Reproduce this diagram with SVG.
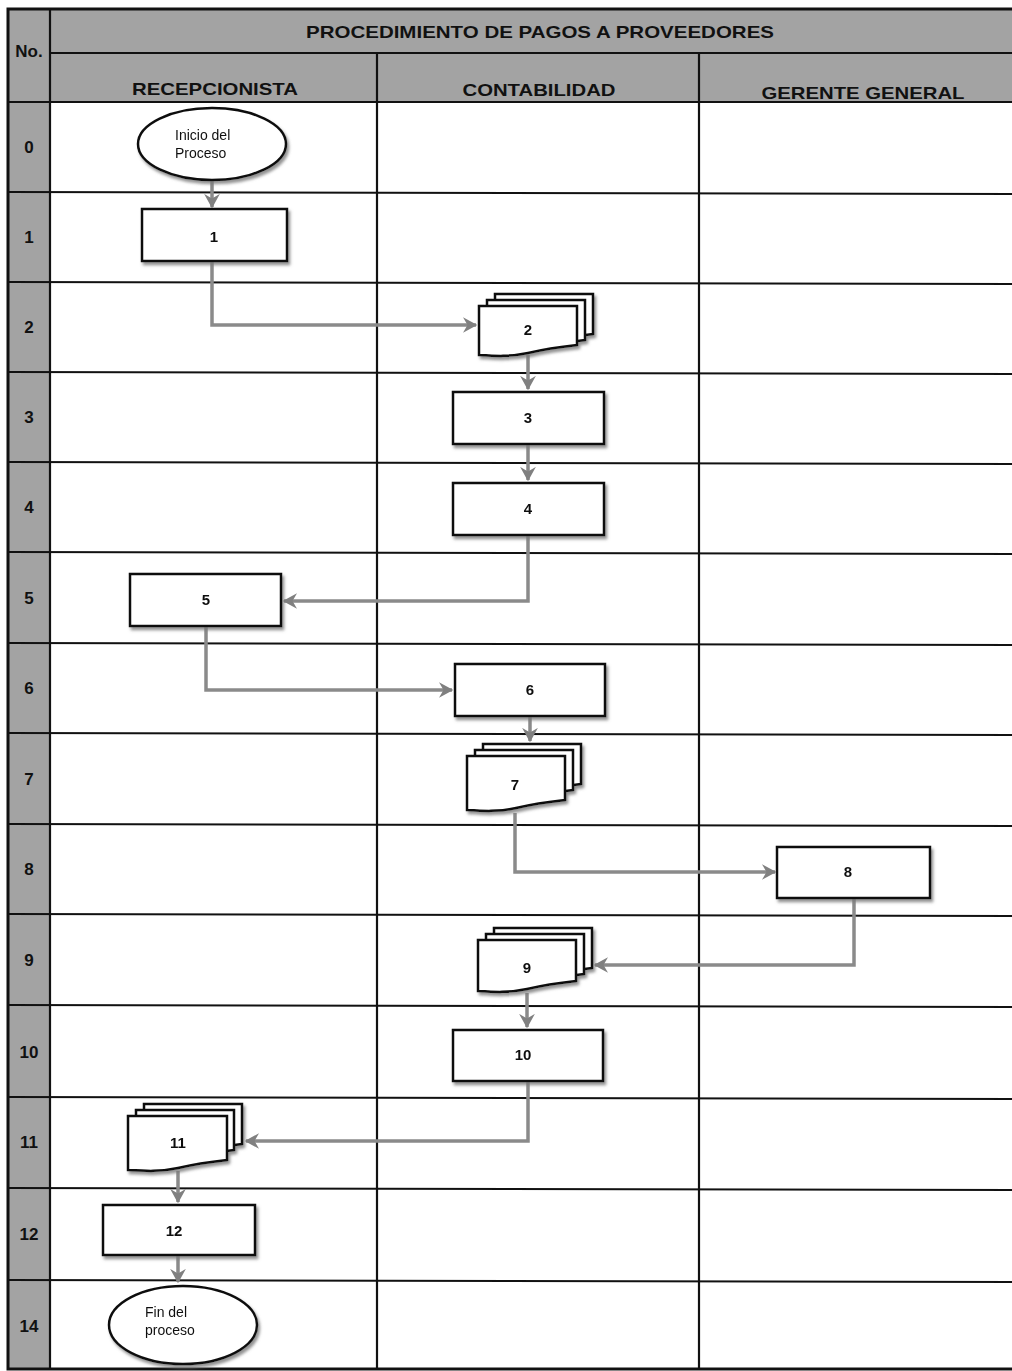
<svg xmlns="http://www.w3.org/2000/svg" width="1012" height="1371" viewBox="0 0 1012 1371">
<style>
.grid{stroke:#111;stroke-width:2.2;fill:none}
.hdr{font-family:"Liberation Sans",Arial,sans-serif;font-weight:bold;fill:#111;text-anchor:middle}
.num{font-family:"Liberation Sans",Arial,sans-serif;font-weight:bold;font-size:17px;fill:#111;text-anchor:middle}
.box{fill:#fff;stroke:#111;stroke-width:2.5}
.lbl{font-family:"Liberation Sans",Arial,sans-serif;font-weight:bold;font-size:15px;fill:#111;text-anchor:middle}
.elt{font-family:"Liberation Sans",Arial,sans-serif;font-size:14px;fill:#111}
.con{fill:none;stroke:#8a8a8a;stroke-width:3.5;marker-end:url(#arr)}
</style>
<defs>
<filter id="sh" x="-20%" y="-20%" width="150%" height="160%">
<feDropShadow dx="2" dy="3" stdDeviation="1.5" flood-color="#777" flood-opacity="0.8"/>
</filter>
<marker id="arr" viewBox="0 0 12 12" refX="10" refY="6" markerWidth="4.5" markerHeight="4.5" orient="auto" markerUnits="strokeWidth">
<path d="M0,0 L11,6 L0,12 L3.5,6 Z" fill="#808080"/>
</marker>
</defs>

<rect x="8" y="9" width="1004" height="93" fill="#a3a3a3"/>
<rect x="8" y="102" width="42" height="1267" fill="#a3a3a3"/>

<g id="grid" class="grid">
<rect x="8" y="9" width="1010" height="1360" stroke-width="3"/>
<line x1="50" y1="9" x2="50" y2="1369"/>
<line x1="50" y1="53" x2="1012" y2="53"/>
<line x1="8" y1="102" x2="1012" y2="102"/>
<line x1="377" y1="53" x2="377" y2="1369"/>
<line x1="699" y1="53" x2="699" y2="1369"/>
<line x1="8" y1="192" x2="1012" y2="194"/>
<line x1="8" y1="282" x2="1012" y2="284"/>
<line x1="8" y1="372" x2="1012" y2="374"/>
<line x1="8" y1="462" x2="1012" y2="464"/>
<line x1="8" y1="552" x2="1012" y2="554"/>
<line x1="8" y1="643" x2="1012" y2="645"/>
<line x1="8" y1="733" x2="1012" y2="735"/>
<line x1="8" y1="824" x2="1012" y2="826"/>
<line x1="8" y1="914" x2="1012" y2="916"/>
<line x1="8" y1="1005" x2="1012" y2="1007"/>
<line x1="8" y1="1097" x2="1012" y2="1099"/>
<line x1="8" y1="1188" x2="1012" y2="1190"/>
<line x1="8" y1="1280" x2="1012" y2="1282"/>
</g>

<g id="headers">
<text class="hdr" x="540" y="38" font-size="17" textLength="468" lengthAdjust="spacingAndGlyphs">PROCEDIMIENTO DE PAGOS A PROVEEDORES</text>
<text class="hdr" x="29" y="57" font-size="17">No.</text>
<text class="hdr" x="215" y="95" font-size="17" textLength="166" lengthAdjust="spacingAndGlyphs">RECEPCIONISTA</text>
<text class="hdr" x="539" y="96" font-size="17" textLength="153" lengthAdjust="spacingAndGlyphs">CONTABILIDAD</text>
<text class="hdr" x="863" y="99" font-size="17" textLength="203" lengthAdjust="spacingAndGlyphs">GERENTE GENERAL</text>
</g>

<g id="rownums">
<text class="num" x="29" y="153">0</text>
<text class="num" x="29" y="243">1</text>
<text class="num" x="29" y="333">2</text>
<text class="num" x="29" y="423">3</text>
<text class="num" x="29" y="513">4</text>
<text class="num" x="29" y="604">5</text>
<text class="num" x="29" y="694">6</text>
<text class="num" x="29" y="785">7</text>
<text class="num" x="29" y="875">8</text>
<text class="num" x="29" y="966">9</text>
<text class="num" x="29" y="1058">10</text>
<text class="num" x="29" y="1148">11</text>
<text class="num" x="29" y="1240">12</text>
<text class="num" x="29" y="1332">14</text>
</g>

<g id="connectors">
<path class="con" d="M212,181 V207"/>
<path class="con" d="M212,262 V325 H476"/>
<path class="con" d="M528,355 V389"/>
<path class="con" d="M528,445 V480"/>
<path class="con" d="M528,536 V601 H284"/>
<path class="con" d="M206,627 V690 H452"/>
<path class="con" d="M530,717 V741"/>
<path class="con" d="M515,813 V872 H775"/>
<path class="con" d="M854,899 V965 H595"/>
<path class="con" d="M527,993 V1027"/>
<path class="con" d="M528,1082 V1141 H246"/>
<path class="con" d="M178,1171 V1202"/>
<path class="con" d="M178,1256 V1282"/>
</g>

<g id="n0" filter="url(#sh)">
<ellipse cx="212" cy="144" rx="74" ry="36" class="box"/>
<text class="elt" x="175" y="140">Inicio del</text>
<text class="elt" x="175" y="158">Proceso</text>
</g>
<g id="n1" filter="url(#sh)">
<rect x="142" y="209" width="145" height="52" class="box"/>
<text class="lbl" x="214" y="242">1</text>
</g>
<g id="n2" filter="url(#sh)">
<path class="box" d="M495,294 H593 V334 C575,336 560,340 540,343 C520,346 510,346 495,346 Z"/>
<path class="box" d="M487,300 H585 V340 C567,342 552,346 532,349 C512,352 502,352 487,352 Z"/>
<path class="box" d="M479,306 H577 V345 C559,347 545,349 528,353 C510,357 495,356 479,355 Z"/>
<text class="lbl" x="528" y="335">2</text>
</g>
<g id="n3" filter="url(#sh)">
<rect x="453" y="392" width="151" height="52" class="box"/>
<text class="lbl" x="528" y="423">3</text>
</g>
<g id="n4" filter="url(#sh)">
<rect x="453" y="483" width="151" height="52" class="box"/>
<text class="lbl" x="528" y="514">4</text>
</g>
<g id="n5" filter="url(#sh)">
<rect x="130" y="574" width="151" height="52" class="box"/>
<text class="lbl" x="206" y="605">5</text>
</g>
<g id="n6" filter="url(#sh)">
<rect x="455" y="664" width="150" height="52" class="box"/>
<text class="lbl" x="530" y="695">6</text>
</g>
<g id="n7" filter="url(#sh)">
<path class="box" d="M483,744 H581 V784 C563,786 548,790 528,793 C508,796 498,796 483,796 Z"/>
<path class="box" d="M475,750 H573 V790 C555,792 540,796 520,799 C500,802 490,802 475,802 Z"/>
<path class="box" d="M467,756 H565 V800 C547,802 533,804 516,808 C498,812 483,811 467,810 Z"/>
<text class="lbl" x="515" y="790">7</text>
</g>
<g id="n8" filter="url(#sh)">
<rect x="777" y="847" width="153" height="51" class="box"/>
<text class="lbl" x="848" y="877">8</text>
</g>
<g id="n9" filter="url(#sh)">
<path class="box" d="M494,928 H592 V968 C574,970 559,974 539,977 C519,980 509,980 494,980 Z"/>
<path class="box" d="M486,934 H584 V974 C566,976 551,980 531,983 C511,986 501,986 486,986 Z"/>
<path class="box" d="M478,940 H576 V981 C558,983 544,985 527,989 C509,993 494,992 478,991 Z"/>
<text class="lbl" x="527" y="973">9</text>
</g>
<g id="n10" filter="url(#sh)">
<rect x="453" y="1030" width="150" height="51" class="box"/>
<text class="lbl" x="523" y="1060">10</text>
</g>
<g id="n11" filter="url(#sh)">
<path class="box" d="M144,1104 H242 V1144 C224,1146 209,1150 189,1153 C169,1156 159,1156 144,1156 Z"/>
<path class="box" d="M136,1110 H234 V1150 C216,1152 201,1156 181,1159 C161,1162 151,1162 136,1162 Z"/>
<path class="box" d="M128,1116 H227 V1160 C209,1162 195,1164 178,1168 C160,1172 145,1171 128,1170 Z"/>
<text class="lbl" x="178" y="1148">11</text>
</g>
<g id="n12" filter="url(#sh)">
<rect x="103" y="1205" width="152" height="50" class="box"/>
<text class="lbl" x="174" y="1236">12</text>
</g>
<g id="n14" filter="url(#sh)">
<ellipse cx="183" cy="1325" rx="74" ry="39" class="box"/>
<text class="elt" x="145" y="1317">Fin del</text>
<text class="elt" x="145" y="1335">proceso</text>
</g>
</svg>
